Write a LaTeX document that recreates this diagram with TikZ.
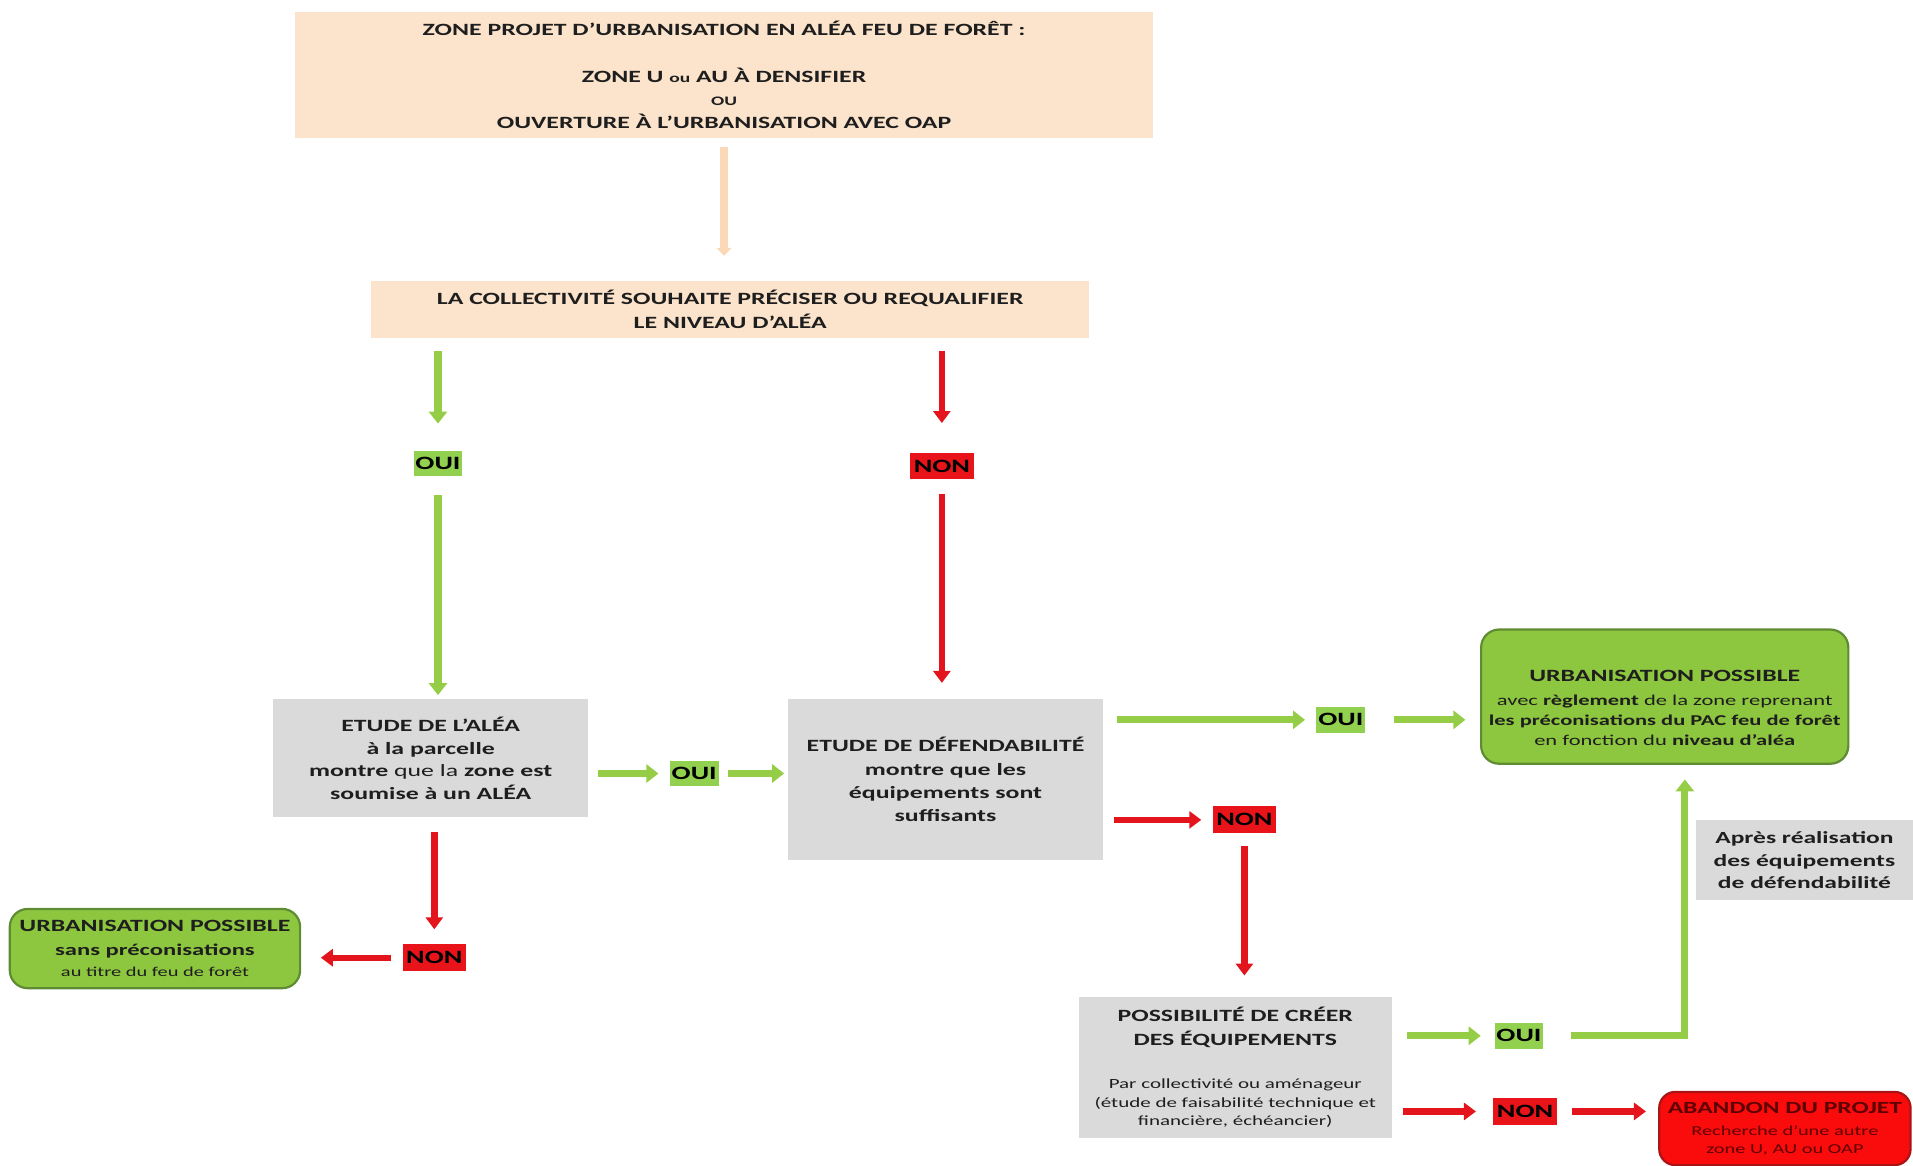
\documentclass[tikz,border=0pt]{standalone}
\usepackage{fontspec}
\newfontfamily\cf[FakeStretch=1.5]{Carlito}
\usetikzlibrary{arrows.meta}
\definecolor{peachc}{RGB}{252,228,204}
\definecolor{parrowc}{RGB}{251,216,184}
\definecolor{grayc}{RGB}{218,218,218}
\definecolor{greenc}{RGB}{141,198,63}
\definecolor{greend}{RGB}{95,140,50}
\definecolor{labgreen}{RGB}{146,208,80}
\definecolor{arrgreen}{RGB}{150,205,70}
\definecolor{labred}{RGB}{232,20,25}
\definecolor{arrred}{RGB}{228,20,28}
\definecolor{redc}{RGB}{250,12,12}
\definecolor{redd}{RGB}{170,20,20}
\definecolor{abtxt}{RGB}{95,0,0}
\definecolor{txtc}{RGB}{30,30,30}
\begin{document}
\begin{tikzpicture}[x=0.61pt,y=-0.61pt,
  box/.style={rectangle, inner sep=0pt, align=center, text=txtc},
  wh/.style 2 args={minimum width=#1*0.61pt, minimum height=#2*0.61pt},
  peachbox/.style={box, fill=peachc, font=\cf\bfseries\fontsize{8.6}{11.6}\selectfont},
  graybox/.style={box, fill=grayc, font=\cf\bfseries\fontsize{8.6}{11.6}\selectfont},
  greenbox/.style={box, fill=greenc, draw=greend, line width=1.1pt, rounded corners=9pt},
  redbox/.style={box, fill=redc, draw=redd, line width=1.1pt, rounded corners=8pt, text=abtxt},
  lab/.style={inner sep=0pt, text=black, font=\cf\bfseries\fontsize{9.4}{10}\selectfont},
  ouilab/.style={lab, fill=labgreen, minimum width=40*0.61pt, minimum height=21*0.61pt},
  nonlab/.style={lab, fill=labred, minimum width=52*0.61pt, minimum height=22*0.61pt},
  garrow/.style={draw=arrgreen, line width=3.6pt, -{Triangle[width=9pt,length=6pt]}},
  rarrow/.style={draw=arrred, line width=3.2pt, -{Triangle[width=8.5pt,length=6pt]}},
  parrow/.style={draw=parrowc, line width=4.4pt, -{Triangle[width=7.5pt,length=4pt]}},
]
\useasboundingbox (0,0) rectangle (1568,955);

% boxes
\node[peachbox, wh={703}{103}] (top) at (593.5,61.5)
  {ZONE PROJET D’URBANISATION EN ALÉA FEU DE FORÊT :\\[11.6pt]
   ZONE U {\fontsize{6.5}{11.6}\selectfont ou} AU À DENSIFIER\\
   {\fontsize{6.5}{11.6}\selectfont OU}\\
   OUVERTURE À L’URBANISATION AVEC OAP};
\node[peachbox, wh={589}{47}] (coll) at (598.5,253.5)
  {LA COLLECTIVITÉ SOUHAITE PRÉCISER OU REQUALIFIER\\LE NIVEAU D’ALÉA};
\node[graybox, wh={258}{97}, font=\cf\bfseries\fontsize{8.6}{11.2}\selectfont] (alea) at (353,621.5)
  {ETUDE DE L’ALÉA\\à la parcelle\\montre {\mdseries que la} zone est\\soumise à un ALÉA};
\node[graybox, wh={258}{132}] (def) at (775,639)
  {ETUDE DE DÉFENDABILITÉ\\montre que les\\équipements sont\\suffisants};
\node[greenbox, wh={301}{110}] (urb) at (1364.5,571) {};
\node[box, font=\cf\fontsize{7.5}{9.8}\selectfont] (urbt) at (1364.5,580)
  {{\bfseries\fontsize{8.6}{9.8}\selectfont URBANISATION POSSIBLE}\\[2.4pt]
   avec {\bfseries règlement} de la zone reprenant\\
   {\bfseries les préconisations du PAC feu de forêt}\\
   en fonction du {\bfseries niveau d’aléa}};
\node[graybox, wh={257}{116}, font=\cf\fontsize{7}{9.2}\selectfont] (poss) at (1012.5,875)
  {{\bfseries\fontsize{8.6}{9.2}\selectfont POSSIBILITÉ DE CRÉER}\\[2.4pt]
   {\bfseries\fontsize{8.6}{9.2}\selectfont DES ÉQUIPEMENTS}\\[12.6pt]
   Par collectivité ou aménageur\\
   (étude de faisabilité technique et\\
   financière, échéancier)};
\node[greenbox, wh={238}{65}, font=\cf\fontsize{6.8}{10.4}\selectfont] (urbl) at (127,777.5)
  {{\bfseries\fontsize{8.6}{10.4}\selectfont URBANISATION POSSIBLE}\\[1.8pt]
   {\bfseries\fontsize{8.2}{10.4}\selectfont sans préconisations}\\
   au titre du feu de forêt};
\node[graybox, wh={178}{66}, font=\cf\bfseries\fontsize{8.5}{11.3}\selectfont] (apres) at (1479,705)
  {Après réalisation\\des équipements\\de défendabilité};
\node[redbox, wh={206}{60}, font=\cf\fontsize{6.8}{9.2}\selectfont] (aband) at (1463,925)
  {{\bfseries\fontsize{8.5}{9.2}\selectfont ABANDON DU PROJET}\\[1.8pt]
   Recherche d’une autre\\zone U, AU ou OAP};

% labels
\node[ouilab] (oui1) at (359,380) {OUI};
\node[nonlab] (non1) at (772,382) {NON};
\node[ouilab] (oui2) at (569,634) {OUI};
\node[ouilab] (oui3) at (1099,590) {OUI};
\node[nonlab] (non2) at (1020,672) {NON};
\node[nonlab] (non3) at (356,785) {NON};
\node[ouilab] (oui4) at (1245,849) {OUI};
\node[nonlab] (non4) at (1250,911) {NON};
\coordinate (bend) at (1381,849);

% connectors
\draw[parrow, shorten <=4.3pt, shorten >=12.2pt] (top.south) -- (top.south |- coll.north);
\draw[garrow, shorten <=6.1pt, shorten >=13.4pt] (oui1 |- coll.south) -- (oui1.north);
\draw[garrow, shorten <=9.2pt, shorten >=1.8pt] (oui1.south) -- (oui1 |- alea.north);
\draw[rarrow, shorten <=6.1pt, shorten >=14.6pt] (non1 |- coll.south) -- (non1.north);
\draw[rarrow, shorten <=7.3pt, shorten >=7.9pt] (non1.south) -- (non1 |- def.north);
\draw[garrow, shorten <=4.9pt, shorten >=5.5pt] (alea.east |- oui2) -- (oui2.west);
\draw[garrow, shorten <=4.3pt, shorten >=1.8pt] (oui2.east) -- (oui2 -| def.west);
\draw[garrow, shorten <=6.7pt, shorten >=5.5pt] (def.east |- oui3) -- (oui3.west);
\draw[garrow, shorten <=14pt, shorten >=7.3pt] (oui3.east) -- (oui3 -| urb.west);
\draw[rarrow, shorten <=5.5pt, shorten >=5.5pt] (def.east |- non2) -- (non2.west);
\draw[rarrow, shorten <=6.1pt, shorten >=10.4pt] (non2.south) -- (non2 |- poss.north);
\draw[rarrow, shorten <=7.3pt, shorten >=7.3pt] (non3 |- alea.south) -- (non3.north);
\draw[rarrow, shorten <=5.5pt, shorten >=9.8pt] (non3.west) -- (non3 -| urbl.east);
\draw[garrow, shorten <=7.3pt, shorten >=6.7pt] (poss.east |- oui4) -- (oui4.west);
\draw[garrow, shorten <=13.4pt, shorten >=7.3pt] (oui4.east) -- (bend) -- (bend |- urb.south);
\draw[rarrow, shorten <=5.5pt, shorten >=8.5pt] (poss.east |- non4) -- (non4.west);
\draw[rarrow, shorten <=7.3pt, shorten >=6.1pt] (non4.east) -- (non4 -| aband.west);
\end{tikzpicture}
\end{document}
